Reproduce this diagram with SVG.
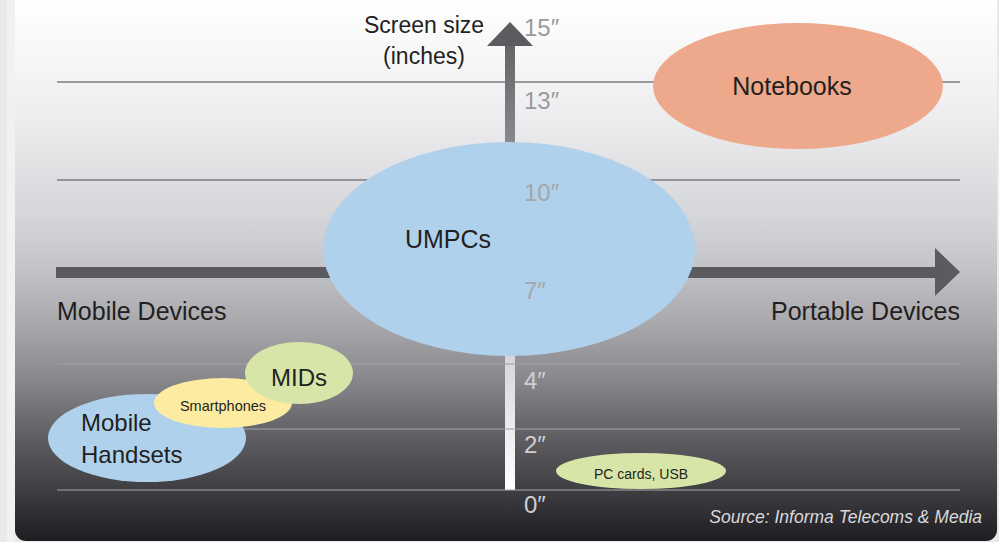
<svg xmlns="http://www.w3.org/2000/svg" width="999" height="542" viewBox="0 0 999 542">
<defs>
<linearGradient id="bg" x1="0" y1="0" x2="0" y2="542" gradientUnits="userSpaceOnUse">
<stop offset="0" stop-color="#ffffff"/>
<stop offset="0.2" stop-color="#efeff1"/>
<stop offset="0.4" stop-color="#d5d6d9"/>
<stop offset="0.5" stop-color="#c2c3c6"/>
<stop offset="0.6" stop-color="#a8a7ab"/>
<stop offset="0.7" stop-color="#88878c"/>
<stop offset="0.8" stop-color="#616065"/>
<stop offset="0.9" stop-color="#403f44"/>
<stop offset="1" stop-color="#1d1c21"/>
</linearGradient>
<linearGradient id="vup" x1="0" y1="22" x2="0" y2="145" gradientUnits="userSpaceOnUse">
<stop offset="0" stop-color="#5c5b60"/>
<stop offset="1" stop-color="#8a898e"/>
</linearGradient>
<linearGradient id="vdown" x1="0" y1="355" x2="0" y2="490" gradientUnits="userSpaceOnUse">
<stop offset="0" stop-color="#d6d6d9"/>
<stop offset="1" stop-color="#ffffff"/>
</linearGradient>
</defs>
<style>
.t{font-family:"Liberation Sans",Arial,sans-serif;fill:#231f20}
.tk{font-family:"Liberation Sans",Arial,sans-serif;font-size:24px}
.gl{stroke:#7d7d80;stroke-width:1.5}
.gl2{stroke:#a3a2a7;stroke-width:1.5;opacity:0.7}
</style>
<rect x="0" y="0" width="999" height="542" fill="#e9e9ea"/>
<rect x="7" y="-20" width="8" height="580" fill="#f1f1f2"/>
<rect x="15" y="-20" width="982" height="561" rx="11" fill="url(#bg)"/>

<g id="gridlines">
<line class="gl" x1="57" y1="82" x2="960" y2="82"/>
<line class="gl" x1="57" y1="180" x2="960" y2="180"/>
</g>

<g id="axes">
<rect x="505" y="45" width="10" height="100" fill="url(#vup)"/>
<polygon points="510,22 533,46 487,46" fill="#5c5b60"/>
<rect x="505" y="352" width="10" height="138" fill="url(#vdown)"/>
<rect x="56" y="267" width="880" height="11" fill="#5b5a5f"/>
<polygon points="935,248 960,272 935,296" fill="#5b5a5f"/>
</g>

<g id="gridlines-lower">
<line class="gl2" x1="57" y1="364" x2="960" y2="364"/>
<line class="gl2" x1="57" y1="429" x2="960" y2="429"/>
<line class="gl2" x1="57" y1="490" x2="960" y2="490"/>
</g>

<g id="notebooks">
<ellipse cx="798" cy="86" rx="145" ry="63" fill="#eea88b"/>
<text class="t" x="792" y="95" font-size="25" text-anchor="middle">Notebooks</text>
</g>
<g id="umpcs">
<ellipse cx="509" cy="249" rx="186" ry="107" fill="#b0d1ec"/>
<text class="t" x="448" y="248" font-size="25" text-anchor="middle">UMPCs</text>
</g>
<g id="mobile-handsets">
<ellipse cx="147" cy="438" rx="99" ry="44" fill="#b0d1ec"/>
<text class="t" x="81" y="431" font-size="24">Mobile</text>
<text class="t" x="81" y="463" font-size="24">Handsets</text>
</g>
<g id="smartphones">
<ellipse cx="223" cy="403" rx="69" ry="25" fill="#fceba0"/>
<text class="t" x="223" y="411" font-size="14.5" text-anchor="middle">Smartphones</text>
</g>
<g id="mids">
<ellipse cx="299" cy="373" rx="54" ry="31" fill="#d7e6a8"/>
<text class="t" x="299" y="386" font-size="24" text-anchor="middle">MIDs</text>
</g>
<g id="pc-cards">
<ellipse cx="641" cy="471" rx="85" ry="18" fill="#d7e6a8"/>
<text class="t" x="641" y="479" font-size="14" text-anchor="middle">PC cards, USB</text>
</g>

<g id="labels">
<text class="t" x="424" y="33" font-size="23" text-anchor="middle">Screen size</text>
<text class="t" x="424" y="64" font-size="23" text-anchor="middle">(inches)</text>
<text class="t" x="57" y="320" font-size="25">Mobile Devices</text>
<text class="t" x="960" y="320" font-size="25" text-anchor="end">Portable Devices</text>
<text class="tk" x="524" y="36" fill="#9a9a9c">15″</text>
<text class="tk" x="524" y="109" fill="#9a9a9c">13″</text>
<text class="tk" x="524" y="201" fill="#a6a6a9">10″</text>
<text class="tk" x="524" y="299" fill="#a6a6a9">7″</text>
<text class="tk" x="524" y="389" fill="#cfcfd2">4″</text>
<text class="tk" x="524" y="453" fill="#cfcfd2">2″</text>
<text class="tk" x="524" y="513" fill="#cfcfd2">0″</text>
<text x="982" y="523" font-family="Liberation Sans,Arial,sans-serif" font-style="italic" font-size="17.5" fill="#d9d9db" text-anchor="end">Source: Informa Telecoms &amp; Media</text>
</g>
</svg>
